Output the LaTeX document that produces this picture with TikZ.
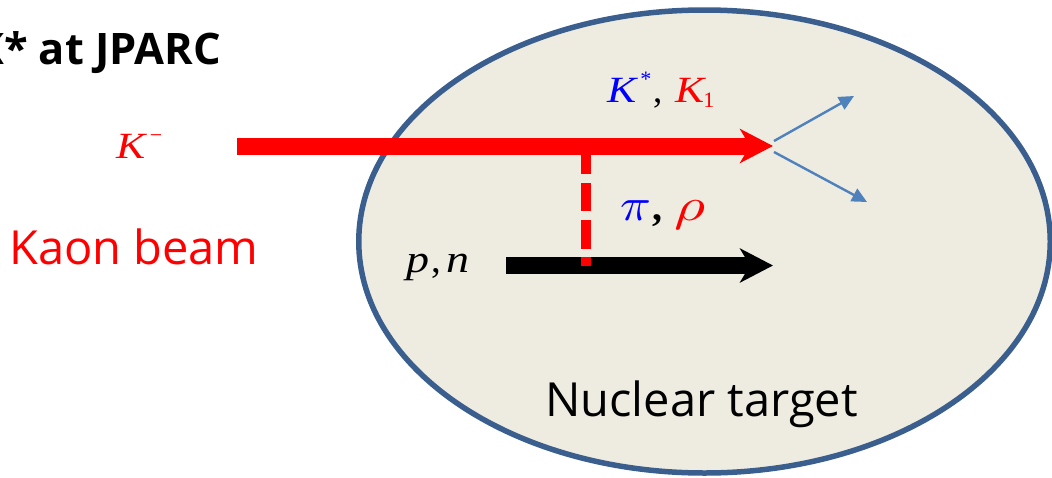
\documentclass[tikz,border=0pt]{standalone}
\usepackage{fontspec}
\usepackage{graphicx}
\setmainfont{Open Sans}
\newfontfamily\phys{Liberation Serif}
\usetikzlibrary{arrows.meta,shapes.geometric}
\definecolor{targetfill}{HTML}{EEECE1}
\definecolor{targetline}{HTML}{3A5F8F}
\definecolor{decay}{HTML}{4F81BD}
\definecolor{kred}{HTML}{FF0000}
\definecolor{kblue}{HTML}{0000FF}
\newcommand{\stretchx}[1]{\scalebox{1.18}[1]{#1}}
\newcommand{\piece}[2]{\makebox[#1pt][l]{#2}}
\newcommand{\smallfs}{\fontsize{22}{22}\selectfont}
\tikzset{
  lbl/.style={inner sep=0pt,anchor=base west},
  thick arrow/.style={line width=17pt,-{Stealth[length=33pt,width=34pt,inset=10pt]}},
  decay arrow/.style={decay,line width=2.4pt,-{Triangle[length=15pt,width=14pt]}},
  exchange/.style={kred,line width=10pt,dash pattern=on 19pt off 9pt on 28pt off 9pt on 29pt off 8pt on 9pt off 100pt},
  phystext/.style={lbl,font=\phys\itshape}
}
\begin{document}
\begin{tikzpicture}[x=1pt,y=-1pt]
\useasboundingbox (0,0) rectangle (1052,477);
\clip (0,0) rectangle (1052,477);
\node[draw=targetline,fill=targetfill,line width=5.5pt,ellipse,minimum width=691.5pt,minimum height=463pt,inner sep=0pt] (target) at (704.5,241.5) {};
\coordinate (beamstart) at (237,146);
\coordinate (beamend) at (773,146);
\coordinate (pstart) at (506,265.5);
\coordinate (pend) at (773,265.5);
\coordinate (extop) at (586,155);
\coordinate (exbot) at (586,266);
\coordinate (d1s) at (774,141);
\coordinate (d1e) at (854,96);
\coordinate (d2s) at (774,152);
\coordinate (d2e) at (867,202);
\draw[thick arrow,kred] (beamstart) -- (beamend);
\draw[thick arrow,black] (pstart) -- (pend);
\draw[exchange] (extop) -- (exbot);
\draw[decay arrow] (d1s) -- (d1e);
\draw[decay arrow] (d2s) -- (d2e);
\node[lbl,font=\bfseries\fontsize{43.4}{43.4}\selectfont] (title) at (-25,64) {K* at JPARC};
\node[lbl,text=kred,font=\fontsize{47}{47}\selectfont] (kaon) at (9,264) {Kaon beam};
\node[lbl,font=\fontsize{47}{47}\selectfont] (nuc) at (545,416) {Nuclear target};
\node[phystext,text=kred,font=\phys\itshape\fontsize{37}{37}\selectfont] (kminus) at (116,158) {\stretchx{K}\hspace{3pt}\raisebox{16pt}{\smallfs −}};
\node[phystext,font=\phys\itshape\fontsize{37}{37}\selectfont] (kstar) at (607,102) {\piece{46}{\textcolor{kblue}{\stretchx{K}\hspace{3pt}\raisebox{16pt}{\smallfs *}}}\piece{22}{\upshape ,}\textcolor{kred}{\stretchx{K}\hspace{-1pt}\raisebox{-5pt}{\upshape\smallfs 1}}};
\node[phystext] (pirho) at (620,220) {\piece{32}{\textcolor{kblue}{\scalebox{5.1}[4.6]{$\pi$}}}\piece{22}{\upshape\bfseries\fontsize{40}{40}\selectfont ,}\textcolor{kred}{\scalebox{6}[4.6]{$\rho$}}};
\node[phystext,font=\phys\itshape\fontsize{39}{39}\selectfont] (pn) at (406,272) {\piece{25}{\stretchx{p}}\piece{15}{\upshape ,}\stretchx{n}};
\end{tikzpicture}
\end{document}
